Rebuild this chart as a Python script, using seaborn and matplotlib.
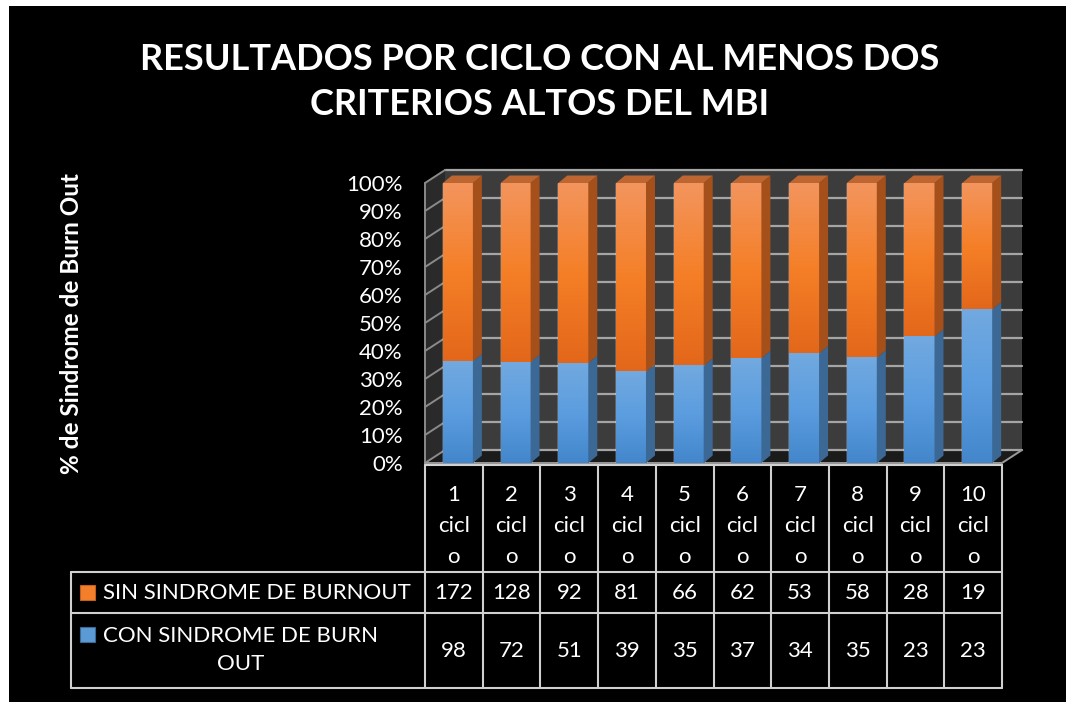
import numpy as np
import pandas as pd
import seaborn as sns
import matplotlib.pyplot as plt
from matplotlib.patches import Polygon, Rectangle
from matplotlib.colors import LinearSegmentedColormap

# datos del gráfico
ciclos = ["1 ciclo", "2 ciclo", "3 ciclo", "4 ciclo", "5 ciclo",
          "6 ciclo", "7 ciclo", "8 ciclo", "9 ciclo", "10 ciclo"]
sin_burnout = [172, 128, 92, 81, 66, 62, 53, 58, 28, 19]
con_burnout = [98, 72, 51, 39, 35, 37, 34, 35, 23, 23]
serie_sin = "SIN SINDROME DE BURNOUT"
serie_con = "CON SINDROME DE BURN\nOUT"
titulo = "RESULTADOS POR CICLO CON AL MENOS DOS\nCRITERIOS ALTOS DEL MBI"
etiqueta_y = "% de Sindrome de Burn Out"

df = pd.DataFrame({"ciclo": ciclos, "sin": sin_burnout, "con": con_burnout})
df["total"] = df["sin"] + df["con"]
df["pct_con"] = df["con"] / df["total"] * 100
df["pct_total"] = (df["sin"] + df["con"]) / df["total"] * 100

sns.set_theme(style="white")
plt.rcParams["font.family"] = ["Lato", "DejaVu Sans"]
plt.rcParams["text.color"] = "white"
FS = 16

W, H = 1066, 702
fig = plt.figure(figsize=(W / 100, H / 100), dpi=100, facecolor="white")
fig.add_artist(Rectangle((9 / W, 0), 1, 1 - 6 / H, transform=fig.transFigure,
                         fc="black", ec="none", zorder=-10))

# ejes principales (cara frontal del gráfico 3D)
ax = fig.add_axes([425 / W, 1 - 463 / H, 577 / W, 280 / H])
ax.set_facecolor("none")
naranja, azul = "#f47f2a", "#5b9bd5"
sns.barplot(data=df, x="ciclo", y="pct_total", color=naranja, width=0.52,
            saturation=1, ax=ax, zorder=3)
sns.barplot(data=df, x="ciclo", y="pct_con", color=azul, width=0.52,
            saturation=1, ax=ax, zorder=3)
n = len(ciclos)
barras = list(ax.patches)
bars_nar = barras[:n]
bars_azu = barras[n:2 * n]

XL = (-0.57, 9.43)
ax.set_xlim(XL)
ax.set_ylim(0, 100)

px_x = 577 / 10
px_y = 280 / 100
ddx, ddy = 20 / px_x, 13 / px_y      # profundidad de paredes
bdx, bdy = 9 / px_x, 7.5 / px_y      # profundidad de barras

# paredes y piso
ax.add_patch(Rectangle((XL[0] + ddx, ddy), XL[1] - XL[0], 100, fc="#3c3c3c",
                       ec="none", zorder=0, clip_on=False))
ax.add_patch(Polygon([(XL[0], 0), (XL[0] + ddx, ddy), (XL[0] + ddx, 100 + ddy), (XL[0], 100)],
                     fc="#2a2a2a", ec="none", zorder=0.5, clip_on=False))
ax.add_patch(Polygon([(XL[0], 0), (XL[1], 0), (XL[1] + ddx, ddy), (XL[0] + ddx, ddy)],
                     fc="#1b1b1b", ec="none", zorder=0.5, clip_on=False))
for v in range(0, 101, 10):
    ax.plot([XL[0] + ddx, XL[1] + ddx], [v + ddy, v + ddy], color="#a5a5a5",
            lw=1.6, zorder=1, clip_on=False)
    ax.plot([XL[0], XL[0] + ddx], [v, v + ddy], color="#8a8a8a",
            lw=1.4, zorder=1, clip_on=False)
ax.plot([XL[0], XL[0]], [0, 100], color="#8a8a8a", lw=1.4, zorder=1, clip_on=False)
ax.plot([XL[0], XL[1], XL[1] + ddx], [0, 0, ddy], color="#9a9a9a", lw=1.4,
        zorder=1.5, clip_on=False)

# degradados y caras laterales de las barras
cmap_nar = LinearSegmentedColormap.from_list("nar", ["#e3671a", "#f57f27", "#f3955e"])
cmap_azu = LinearSegmentedColormap.from_list("azu", ["#4386cb", "#5b9ddf", "#72a9e0"])
grad = np.linspace(0, 1, 256).reshape(-1, 1)
for pn, pa in zip(bars_nar, bars_azu):
    h_azu = pa.get_height()
    pn.set_y(h_azu)
    pn.set_height(pn.get_height() - h_azu)
    x0, w = pa.get_x(), pa.get_width()
    x1 = x0 + w
    top = pn.get_y() + pn.get_height()
    for p, cm in ((pn, cmap_nar), (pa, cmap_azu)):
        ax.imshow(grad, extent=(x0, x1, p.get_y(), p.get_y() + p.get_height()),
                  origin="lower", cmap=cm, aspect="auto", zorder=3.5)
    ax.add_patch(Polygon([(x1, 0), (x1 + bdx, bdy), (x1 + bdx, h_azu + bdy), (x1, h_azu)],
                         fc="#3b6895", ec="none", zorder=4, clip_on=False))
    ax.add_patch(Polygon([(x1, h_azu), (x1 + bdx, h_azu + bdy), (x1 + bdx, top + bdy), (x1, top)],
                         fc="#a5501b", ec="none", zorder=4, clip_on=False))
    ax.add_patch(Polygon([(x0, top), (x0 + bdx, top + bdy), (x1 + bdx, top + bdy), (x1, top)],
                         fc="#bd6631", ec="none", zorder=4, clip_on=False))
ax.set_xlim(XL)
ax.set_ylim(0, 100)

ax.set_yticks(range(0, 101, 10))
ax.set_yticklabels([f"{v}%" for v in range(0, 101, 10)])
ax.tick_params(axis="y", length=0, pad=16, labelsize=FS, labelcolor="white")
ax.set_xticks([])
ax.set_xlabel("")
ax.set_ylabel("")
for s in ax.spines.values():
    s.set_visible(False)

# tabla de datos
tab = fig.add_axes([425 / W, 1 - 688 / H, 577 / W, 223 / H])
tab.set_xlim(-0.5, n - 0.5)
tab.set_ylim(223, 0)
tab.axis("off")
x_izq = (71 - 425) / px_x - 0.5
lc = dict(color="#d0d0d0", lw=1.5, clip_on=False)
tab.plot([-0.5, n - 0.5], [0, 0], **lc)
for yy in (107, 148, 223):
    tab.plot([x_izq, n - 0.5], [yy, yy], **lc)
tab.plot([x_izq, x_izq], [107, 223], **lc)
for i in range(n + 1):
    tab.plot([i - 0.5, i - 0.5], [0, 223], **lc)

for i, c in enumerate(ciclos):
    num, word = c.split()
    tab.text(i, 61, f"{num}\n{word[:-1]}\n{word[-1]}", ha="center", va="center",
             fontsize=FS, linespacing=1.67, color="white")
    tab.text(i, 128, str(sin_burnout[i]), ha="center", va="center", fontsize=FS, color="white")
    tab.text(i, 186, str(con_burnout[i]), ha="center", va="center", fontsize=FS, color="white")

sw = 15 / px_x
x_sw = (80 - 425) / px_x - 0.5
tab.add_patch(Rectangle((x_sw, 120), sw, 15, fc=naranja, ec="#c0601e", lw=0.8, clip_on=False))
tab.add_patch(Rectangle((x_sw, 162), sw, 15, fc=azul, ec="#3b6895", lw=0.8, clip_on=False))
x_txt = (103 - 425) / px_x - 0.5
tab.text(x_txt, 128, serie_sin, ha="left", va="center", fontsize=FS, color="white")
tab.text(x_txt, 185, serie_con, ha="left", va="center", multialignment="center",
         fontsize=FS, linespacing=1.55, color="white")

fig.text(540 / W, 1 - 82 / H, titulo, ha="center", va="center", fontsize=26,
         fontweight="bold", linespacing=1.45, color="white")
fig.text(72 / W, 1 - 324 / H, etiqueta_y, ha="center", va="center", rotation=90,
         fontsize=17.5, fontweight="bold", color="white")

fig.savefig("out.png", dpi=100, facecolor="white")
